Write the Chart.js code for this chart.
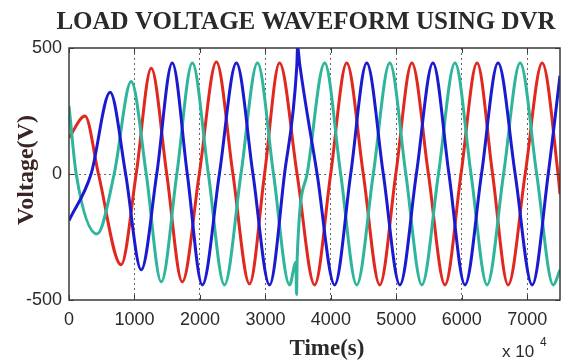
<!DOCTYPE html>
<html>
<head>
<meta charset="utf-8">
<title>Load voltage waveform using DVR</title>
<script src="https://cdn.jsdelivr.net/npm/chart.js@4.4.1/dist/chart.umd.min.js"></script>
<style>
  html, body { margin: 0; padding: 0; background: #ffffff; }
  #wrap { width: 564px; height: 362px; position: relative; }
</style>
</head>
<body>
<div id="wrap"><canvas id="waveChart"></canvas></div>
<script>
// Values: peaks, troughs and zero crossings
const redTime = [0, 245, 450, 796, 1026, 1256, 1493, 1730, 1990, 2251, 2504, 2757, 2987, 3216, 3484, 3752, 3997, 4242, 4495, 4747, 4992, 5237, 5490, 5743, 5988, 6233, 6470, 6708, 6968, 7228, 7470, 7500];
const redVolt = [144, 230, 0, -360, 0, 420, 0, -428, 0, 444, 0, -436, 0, 440, 0, -440, 0, 440, 0, -440, 0, 440, 0, -440, 0, 440, 0, -440, 0, 440, 0, -80];

const blueTime = [0, 337, 628, 865, 1103, 1340, 1577, 1807, 2037, 2297, 2557, 2810, 3063, 3292, 3480, 3492, 3522, 3790, 4058, 4303, 4548, 4801, 5054, 5306, 5559, 5804, 6049, 6301, 6554, 6815, 7075, 7320, 7500];
const blueVolt = [-185, 0, 324, 0, -380, 0, 440, 0, -440, 0, 440, 0, -440, 0, 430, 505, 440, 0, -440, 0, 440, 0, -440, 0, 440, 0, -440, 0, 440, 0, -440, 0, 390];

const tealTime = [0, 110, 429, 690, 950, 1180, 1409, 1647, 1884, 2129, 2374, 2627, 2879, 3124, 3369, 3466, 3476, 3486, 3637, 3905, 4150, 4395, 4648, 4900, 5145, 5390, 5643, 5896, 6141, 6386, 6638, 6891, 7144, 7397, 7500];
const tealVolt = [270, 0, -238, 0, 367, 0, -428, 0, 440, 0, -440, 0, 440, 0, -440, -350, -478, -330, 0, 440, 0, -440, 0, 440, 0, -440, 0, 440, 0, -440, 0, 440, 0, -440, -380];

const xTicks = [0, 1000, 2000, 3000, 4000, 5000, 6000, 7000];
const yTicks = [-500, 0, 500];

const titleText = "LOAD VOLTAGE WAVEFORM USING DVR";
const xTitle = "Time(s)";
const yTitle = "Voltage(V)";

const colors = {
  red: "#e0281f",
  blue: "#1a1ad0",
  teal: "#2eb59c",
  frame: "#3a3a3a",
  grid: "rgba(50, 50, 50, 0.75)",
  text: "#2a2a2a",
};

function toPoints(times, volts) {
  return times.map((t, i) => ({ x: t, y: volts[i] }));
}

function phase(label, times, volts, color) {
  return {
    label: label,
    data: toPoints(times, volts),
    borderColor: color,
    backgroundColor: color,
    borderWidth: 3,
    pointRadius: 0,
    cubicInterpolationMode: "monotone",
    fill: false,
  };
}

// box, inward tick marks and the MATLAB style text
const scopeFrame = {
  id: "scopeFrame",
  afterDraw(chart) {
    const { ctx, chartArea: a, scales } = chart;
    ctx.save();
    ctx.strokeStyle = colors.frame;
    ctx.lineWidth = 1.5;
    ctx.strokeRect(a.left, a.top, a.right - a.left, a.bottom - a.top);

    ctx.lineWidth = 1;
    ctx.beginPath();
    xTicks.forEach((v) => {
      const px = Math.round(scales.x.getPixelForValue(v)) + 0.5;
      ctx.moveTo(px, a.bottom);
      ctx.lineTo(px, a.bottom - 5);
      ctx.moveTo(px, a.top);
      ctx.lineTo(px, a.top + 5);
    });
    yTicks.forEach((v) => {
      const py = Math.round(scales.y.getPixelForValue(v)) + 0.5;
      ctx.moveTo(a.left, py);
      ctx.lineTo(a.left + 5, py);
      ctx.moveTo(a.right, py);
      ctx.lineTo(a.right - 5, py);
    });
    ctx.stroke();

    ctx.fillStyle = colors.text;
    ctx.textAlign = "center";
    ctx.textBaseline = "alphabetic";
    ctx.font = "bold 25px 'Liberation Serif'";
    ctx.fillText(titleText, 306, 29);

    ctx.font = "bold 23px 'Liberation Serif'";
    ctx.textBaseline = "middle";
    ctx.fillText(xTitle, 327, 349);

    ctx.save();
    ctx.translate(27, 170);
    ctx.rotate(-Math.PI / 2);
    ctx.fillStyle = "#3a2424";
    ctx.font = "bold 24px 'Liberation Serif'";
    ctx.fillText(yTitle, 0, 0);
    ctx.restore();

    ctx.textAlign = "left";
    ctx.textBaseline = "alphabetic";
    ctx.font = "17px 'Liberation Sans'";
    ctx.fillText("x 10", 502, 357);
    ctx.font = "12px 'Liberation Sans'";
    ctx.fillText("4", 540, 346);
    ctx.restore();
  },
};

function buildWaveChart(ctx) {
  return new Chart(ctx, {
    type: "line",
    data: {
      datasets: [
        phase("Phase B", blueTime, blueVolt, colors.blue),
        phase("Phase C", tealTime, tealVolt, colors.teal),
        phase("Phase A", redTime, redVolt, colors.red),
      ],
    },
    options: {
      responsive: true,
      maintainAspectRatio: false,
      animation: false,
      layout: { padding: { top: 48, right: 4, left: 0, bottom: 0 } },
      plugins: {
        legend: { display: false },
        tooltip: { enabled: false },
        title: { display: false },
      },
      scales: {
        x: {
          type: "linear",
          min: 0,
          max: 7500,
          afterBuildTicks: (scale) => {
            scale.ticks = xTicks.map((v) => ({ value: v }));
          },
          afterFit: (scale) => {
            scale.height = 62;
          },
          grid: {
            color: (c) => (c.tick && c.tick.value === 0 ? "transparent" : colors.grid),
            lineWidth: 1,
            drawTicks: false,
          },
          border: { display: false, dash: [2, 3] },
          ticks: {
            color: colors.text,
            padding: 9,
            maxRotation: 0,
            callback: (v) => String(v),
            font: { family: "'Liberation Sans'", size: 18 },
          },
        },
        y: {
          type: "linear",
          min: -500,
          max: 500,
          afterBuildTicks: (scale) => {
            scale.ticks = yTicks.map((v) => ({ value: v }));
          },
          afterFit: (scale) => {
            scale.width = 69;
          },
          grid: {
            color: (c) => (c.tick && c.tick.value === 0 ? colors.grid : "transparent"),
            lineWidth: 1,
            drawTicks: false,
          },
          border: { display: false, dash: [2, 3] },
          ticks: {
            color: colors.text,
            padding: 7,
            callback: (v) => String(v),
            font: { family: "'Liberation Sans'", size: 18 },
          },
        },
      },
    },
    plugins: [scopeFrame],
  });
}

let waveChartInstance = buildWaveChart(document.getElementById("waveChart").getContext("2d"));
</script>
</body>
</html>
